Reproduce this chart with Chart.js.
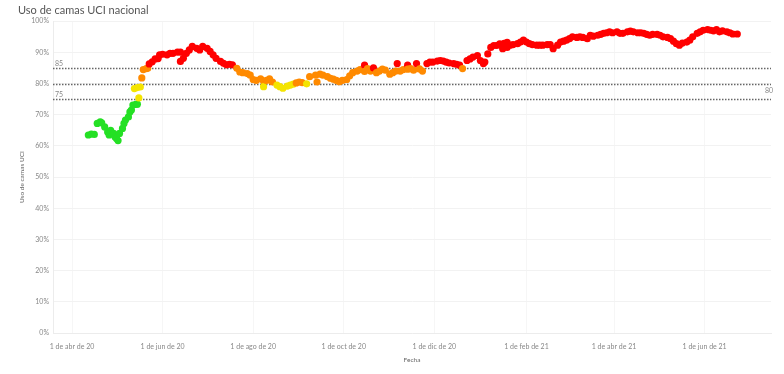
<!DOCTYPE html>
<html>
<head>
<meta charset="utf-8">
<script src="https://cdn.jsdelivr.net/npm/chart.js@4"></script>
<style>
  body { margin: 0; background: #fff; }
</style>
</head>
<body>
<canvas id="chart" width="784" height="374"></canvas>
<script>
// dias desde el 1 de abr de 20
const dias = [
  11, 13, 15, 17, 19, 20, 22, 24, 25, 26, 28, 29, 30, 31, 32, 34, 35, 36, 38, 39,
  40, 41, 42, 43, 44, 44, 45, 46, 47, 48, 50, 51, 52, 54, 56, 58, 59, 61, 64, 66,
  68, 71, 73, 73, 75, 77, 79, 81, 84, 86, 88, 91, 93, 95, 97, 100, 102, 104, 106, 108,
  111, 113, 115, 118, 120, 122, 124, 127, 129, 129, 131, 133, 135, 138, 140, 142, 145, 147, 149, 151,
  153, 155, 158, 160, 164, 165, 167, 169, 172, 174, 176, 178, 180, 182, 185, 187, 189, 192, 194, 197,
  197, 199, 201, 203, 205, 207, 209, 211, 214, 216, 218, 219, 221, 223, 226, 226, 228, 230, 232, 234,
  236, 239, 241, 243, 246, 248, 250, 252, 254, 257, 259, 261, 263, 266, 268, 270, 273, 275, 277, 278,
  280, 282, 284, 286, 288, 290, 291, 293, 293, 295, 297, 300, 302, 304, 306, 308, 310, 313, 315, 317,
  320, 322, 324, 327, 329, 331, 333, 335, 337, 340, 342, 344, 347, 349, 351, 354, 356, 358, 360, 362,
  364, 367, 369, 371, 374, 376, 378, 381, 383, 385, 387, 389, 391, 394, 396, 398, 401, 403, 405, 407,
  409, 411, 414, 416, 418, 421, 423, 425, 428, 430, 432, 434, 436, 438, 441, 443, 445, 448
];
const uso = [
  63.5, 63.8, 63.7, 67.2, 67.7, 67.4, 66.1, 64.5, 63.5, 65.0, 64.0, 62.9, 62.4, 61.7, 64.0, 65.6, 67.2, 68.3, 69.3, 70.9,
  71.5, 73.1, 78.4, 73.3, 73.4, 78.7, 75.4, 78.9, 81.8, 84.5, 84.8, 84.9, 86.3, 87.0, 87.9, 88.0, 89.2, 89.4, 89.2, 89.7,
  89.7, 90.1, 90.1, 87.1, 88.1, 89.7, 90.8, 91.9, 91.3, 90.8, 91.9, 91.3, 90.3, 89.2, 88.1, 87.1, 86.5, 86.0, 86.2, 86.0,
  84.9, 83.7, 83.5, 83.2, 82.7, 81.3, 81.0, 81.5, 80.8, 79.0, 81.0, 81.5, 80.5, 79.5, 79.0, 78.5, 79.2, 79.5, 79.8, 80.2,
  80.5, 80.3, 79.9, 82.2, 82.7, 80.5, 83.0, 82.7, 82.2, 81.7, 81.4, 81.0, 80.6, 81.0, 81.3, 82.5, 83.5, 84.0, 84.5, 85.9,
  83.9, 84.8, 84.0, 85.0, 83.5, 84.0, 84.6, 84.3, 83.0, 83.5, 84.0, 86.4, 84.0, 84.5, 85.9, 84.6, 84.8, 84.3, 86.4, 84.7,
  84.0, 86.4, 86.9, 86.9, 87.2, 87.4, 87.2, 86.9, 86.6, 86.4, 86.2, 85.9, 84.8, 87.4, 87.9, 88.5, 89.0, 87.4, 86.4, 86.9,
  89.5, 91.6, 92.2, 92.2, 92.7, 91.2, 92.9, 91.6, 93.2, 92.3, 92.5, 92.8, 93.3, 93.9, 93.3, 92.8, 92.5, 92.3, 92.3, 92.3,
  92.5, 92.5, 91.2, 92.3, 93.3, 93.6, 93.9, 94.4, 95.0, 94.8, 95.0, 94.8, 94.4, 95.5, 95.2, 95.5, 95.8, 96.1, 96.3, 96.6,
  96.3, 96.6, 96.1, 96.1, 96.6, 96.8, 96.6, 96.3, 96.3, 96.1, 95.8, 95.5, 95.8, 95.8, 95.5, 95.0, 94.8, 94.4, 93.6, 92.8,
  92.3, 93.0, 93.3, 93.9, 95.0, 96.1, 96.6, 97.1, 97.3, 97.1, 96.9, 97.3, 96.6, 96.9, 96.6, 96.3, 95.9, 95.9
];
const tickDias = [0, 61, 122, 183, 244, 306, 365, 426];
const tickLabels = ['1 de abr de 20', '1 de jun de 20', '1 de ago de 20', '1 de oct de 20',
                    '1 de dic de 20', '1 de feb de 21', '1 de abr de 21', '1 de jun de 21'];
const refLineas = [85, 80, 75];

const colorPorUso = v => v < 75 ? '#24e024' : v < 80 ? '#f4e400' : v < 85 ? '#ff8a00' : '#ff0000';

const refPlugin = {
  id: 'refLineas',
  beforeDatasetsDraw(chart) {
    const { ctx, chartArea, scales: { y } } = chart;
    ctx.save();
    ctx.strokeStyle = '#666';
    ctx.lineWidth = 1.3;
    ctx.setLineDash([1.5, 1.5]);
    ctx.font = '7px Lato';
    ctx.fillStyle = '#888';
    ctx.textBaseline = 'middle';
    refLineas.forEach(v => {
      const py = Math.round(y.getPixelForValue(v)) + 0.5;
      ctx.beginPath();
      ctx.moveTo(chartArea.left, py);
      ctx.lineTo(chartArea.right, py);
      ctx.stroke();
      if (v === 80) ctx.fillText(String(v), chartArea.right - 6, py + 6);
      else ctx.fillText(String(v), chartArea.left + 2, py - 5);
    });
    ctx.restore();
  }
};

new Chart(document.getElementById('chart'), {
  type: 'scatter',
  data: {
    datasets: [{
      data: dias.map((d, i) => ({ x: d, y: uso[i] })),
      pointRadius: 3.6,
      pointHoverRadius: 3.6,
      borderWidth: 0,
      backgroundColor: c => colorPorUso(c.raw ? c.raw.y : 0)
    }]
  },
  options: {
    responsive: false,
    animation: false,
    devicePixelRatio: 1,
    layout: { padding: { left: 18, right: 13, top: 0, bottom: 0 } },
    plugins: {
      legend: { display: false },
      tooltip: { enabled: false },
      title: {
        display: true,
        text: 'Uso de camas UCI nacional',
        align: 'start',
        color: '#555',
        font: { family: 'Lato', size: 11, weight: 'normal' },
        padding: { top: 4, bottom: 4 }
      }
    },
    scales: {
      x: {
        type: 'linear',
        min: -12.8,
        max: 470.7,
        afterBuildTicks: s => { s.ticks = tickDias.map(v => ({ value: v })); },
        afterFit: s => { s.height = 41; },
        grid: { color: '#f6f6f6', drawTicks: false },
        border: { color: '#ececec' },
        ticks: {
          padding: 10,
          color: '#888',
          autoSkip: false,
          maxRotation: 0,
          font: { family: 'Lato', size: 7 },
          callback: (v, i) => tickLabels[i]
        },
        title: {
          display: true,
          text: 'Fecha',
          color: '#666',
          font: { family: 'Lato', size: 6.5 },
          padding: { top: 0, bottom: 10 }
        }
      },
      y: {
        min: 0,
        max: 100,
        afterFit: s => { s.width = 35; },
        grid: { color: '#f2f2f2', drawTicks: false },
        border: { color: '#ececec' },
        ticks: {
          stepSize: 10,
          padding: 4,
          color: '#888',
          font: { family: 'Lato', size: 7 },
          callback: v => v + '%'
        },
        title: {
          display: true,
          text: 'Uso de camas UCI',
          color: '#666',
          font: { family: 'Lato', size: 6.5 },
          padding: { top: 0, bottom: 0 }
        }
      }
    }
  },
  plugins: [refPlugin]
});
</script>
</body>
</html>
